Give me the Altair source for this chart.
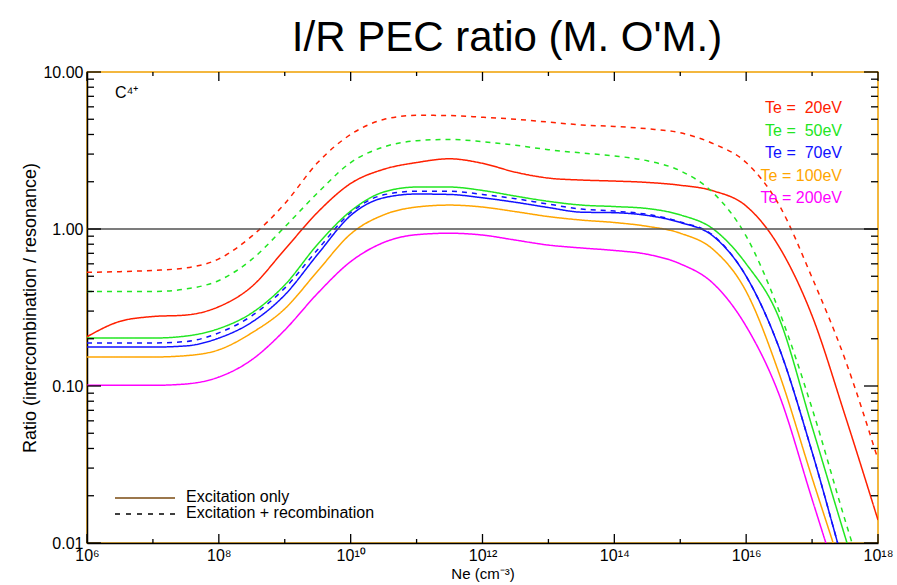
import json
import altair as alt
import pandas as pd

# ---------------- data ----------------
ne_exp = [6.0, 6.5, 7.0, 7.5, 8.0, 8.5, 9.0, 9.5, 10.0, 10.5, 11.0, 11.5, 12.0,
          12.5, 13.0, 13.5, 14.0, 14.5, 15.0, 15.5, 16.0, 16.5, 17.0, 17.5, 18.0]

# excitation only (solid)
r20_exc = [0.206, 0.258, 0.277, 0.283, 0.32, 0.43, 0.74, 1.28, 1.95, 2.4, 2.65, 2.8, 2.62,
           2.3, 2.11, 2.05, 2.02, 1.98, 1.9, 1.75, 1.4, 0.77, 0.28, 0.065, 0.014]
r50_exc = [0.202, 0.202, 0.202, 0.208, 0.232, 0.292, 0.44, 0.8, 1.3, 1.72, 1.85, 1.85, 1.76,
           1.62, 1.5, 1.42, 1.39, 1.35, 1.23, 1.0, 0.6, 0.27, 0.055, 0.011, 0.0023]
r70_exc = [0.177, 0.177, 0.177, 0.18, 0.202, 0.255, 0.38, 0.69, 1.22, 1.58, 1.67, 1.66, 1.58,
           1.48, 1.37, 1.28, 1.27, 1.22, 1.1, 0.9, 0.5, 0.175, 0.038, 0.0068, 0.0013]
r100_exc = [0.153, 0.153, 0.153, 0.156, 0.17, 0.218, 0.31, 0.54, 0.93, 1.23, 1.38, 1.42, 1.38,
            1.29, 1.2, 1.14, 1.1, 1.04, 0.94, 0.74, 0.4, 0.12, 0.026, 0.0058, 0.0012]
r200_exc = [0.101, 0.101, 0.101, 0.103, 0.114, 0.147, 0.227, 0.39, 0.62, 0.82, 0.92, 0.94, 0.915,
            0.85, 0.79, 0.757, 0.73, 0.69, 0.6, 0.45, 0.24, 0.088, 0.019, 0.0041, 0.0009]

# excitation + recombination (dashed)
r20_rec = [0.53, 0.535, 0.545, 0.565, 0.645, 0.9, 1.45, 2.65, 4.0, 4.98, 5.3, 5.28, 5.15,
           5.0, 4.8, 4.6, 4.5, 4.35, 4.1, 3.5, 2.65, 1.42, 0.49, 0.148, 0.034]
r50_rec = [0.40, 0.40, 0.40, 0.415, 0.47, 0.64, 1.03, 1.7, 2.65, 3.33, 3.65, 3.72, 3.6,
           3.42, 3.2, 3.05, 2.92, 2.72, 2.35, 1.7, 0.9, 0.3, 0.072, 0.014, 0.003]
r70_rec = [0.188, 0.188, 0.188, 0.192, 0.218, 0.28, 0.42, 0.74, 1.27, 1.65, 1.74, 1.74, 1.66,
           1.56, 1.44, 1.34, 1.3, 1.24, 1.11, 0.91, 0.5, 0.175, 0.038, 0.0068, 0.0013]

te_labels = ["Te = \u00a020eV", "Te = \u00a050eV", "Te = \u00a070eV", "Te = 100eV", "Te = 200eV"]
te_colors = ["#FF2000", "#22E622", "#1010FF", "#FFA500", "#FF00FF"]

x_tick_labels = ["10⁶", "10⁸", "10¹⁰", "10¹²", "10¹⁴", "10¹⁶", "10¹⁸"]
y_tick_labels = ["0.01", "0.10", "1.00", "10.00"]

title_text = "I/R PEC ratio (M. O'M.)"
x_title = "Ne (cm⁻³)"
y_title = "Ratio (intercombination / resonance)"
ion_label = "C⁴⁺"
legend_labels = ["Excitation only", "Excitation + recombination"]

# ---------------- build table ----------------
series = [
    (te_labels[0], "exc", r20_exc), (te_labels[1], "exc", r50_exc),
    (te_labels[2], "exc", r70_exc), (te_labels[3], "exc", r100_exc),
    (te_labels[4], "exc", r200_exc),
    (te_labels[0], "rec", r20_rec), (te_labels[1], "rec", r50_rec),
    (te_labels[2], "rec", r70_rec),
]
rows = []
for te, proc, vals in series:
    for e, v in zip(ne_exp, vals):
        rows.append({"Ne": 10.0 ** e, "ratio": v, "Te": te, "process": proc,
                     "series": te + proc})
df = pd.DataFrame(rows)

W, H = 791, 471
FONT = "Liberation Sans"

x_scale = alt.Scale(type="log", domain=[1e6, 1e18], nice=False)
y_scale = alt.Scale(type="log", domain=[0.01, 10], nice=False)

x_major_vals = [10.0 ** e for e in range(6, 19, 2)]
x_minor_vals = [10.0 ** e for e in range(7, 18, 2)]
y_major_vals = [0.01, 0.1, 1.0, 10.0]
y_minor_vals = [k * 10.0 ** d for d in (-2, -1, 0) for k in range(2, 10)]

x_axis = alt.Axis(
    values=x_major_vals, ticks=False, grid=False, domainColor="black", domainWidth=1.5,
    labelExpr=f"{json.dumps(x_tick_labels, ensure_ascii=False)}[round((log(datum.value)/LN10 - 6)/2)]",
    labelFontSize=16, labelPadding=4, labelColor="black", labelFlush=False,
    title=x_title, titleFontSize=15, titleFontWeight="normal", titlePadding=3, titleColor="black",
)
y_axis = alt.Axis(
    values=y_major_vals, ticks=False, grid=False, domainColor="black", domainWidth=1.5,
    labelExpr=f"{json.dumps(y_tick_labels)}[round(log(datum.value)/LN10) + 2]",
    labelFontSize=16, labelPadding=4, labelColor="black", labelFlush=False,
    title=y_title, titleFontSize=18, titleFontWeight="normal", titlePadding=3, titleColor="black",
)

lines = alt.Chart(df).mark_line(strokeWidth=1.5, interpolate="monotone", clip=True).encode(
    x=alt.X("Ne:Q", scale=x_scale, axis=x_axis),
    y=alt.Y("ratio:Q", scale=y_scale, axis=y_axis),
    color=alt.Color("Te:N", scale=alt.Scale(domain=te_labels, range=te_colors), legend=None),
    strokeDash=alt.StrokeDash("process:N",
                              scale=alt.Scale(domain=["exc", "rec"], range=[[1, 0], [5, 5]]),
                              legend=None),
    detail="series:N",
)

one_line = alt.Chart(pd.DataFrame({"ratio": [1.0]})).mark_rule(
    color="#505050", strokeWidth=1.3).encode(y=alt.Y("ratio:Q", scale=y_scale))

# inward ticks
def xticks(vals, length, top):
    d = pd.DataFrame({"Ne": vals})
    if top:
        yy, yy2 = alt.value(0), alt.value(length)
    else:
        yy, yy2 = alt.value(H), alt.value(H - length)
    return alt.Chart(d).mark_rule(color="black", strokeWidth=1.3).encode(
        x=alt.X("Ne:Q", scale=x_scale), y=yy, y2=yy2)

def yticks(vals, length, right):
    d = pd.DataFrame({"ratio": vals})
    if right:
        xx, xx2 = alt.value(W), alt.value(W - length)
    else:
        xx, xx2 = alt.value(0), alt.value(length)
    return alt.Chart(d).mark_rule(color="black", strokeWidth=1.3).encode(
        y=alt.Y("ratio:Q", scale=y_scale), x=xx, x2=xx2)

tick_layers = [
    xticks(x_major_vals, 9, False), xticks(x_minor_vals, 4, False),
    xticks(x_major_vals, 9, True), xticks(x_minor_vals, 4, True),
    yticks(y_major_vals, 14, False), yticks(y_minor_vals, 7, False),
    yticks(y_major_vals, 14, True), yticks(y_minor_vals, 7, True),
]

dummy = pd.DataFrame({"k": [0]})

def label(txt, x, y, size=16, color="black", align="left", baseline="middle"):
    return alt.Chart(dummy).mark_text(
        text=txt, fontSize=size, color=color, align=align, baseline=baseline, font=FONT
    ).encode(x=alt.value(x), y=alt.value(y))

texts = [label(title_text, 420, -21, size=42, align="center", baseline="alphabetic"),
         label(ion_label, 28, 21, size=16)]
for i, (t, c) in enumerate(zip(te_labels, te_colors)):
    texts.append(label(t, 755, 36 + 22.6 * i, size=16, color=c, align="right"))

leg_solid = alt.Chart(dummy).mark_rule(color="#7a4a10", strokeWidth=1.5).encode(
    x=alt.value(28), x2=alt.value(88), y=alt.value(426))
leg_dash = alt.Chart(dummy).mark_rule(color="black", strokeWidth=1.3, strokeDash=[5, 6]).encode(
    x=alt.value(28), x2=alt.value(88), y=alt.value(442))
texts.append(label(legend_labels[0], 99, 425))
texts.append(label(legend_labels[1], 99, 441))

chart = alt.layer(
    lines, one_line, *tick_layers, leg_solid, leg_dash, *texts
).properties(
    width=W, height=H,
    autosize=alt.AutoSizeParams(type="none"),
    padding={"left": 87, "top": 72, "right": 19, "bottom": 42},
).configure(font=FONT, background="white").configure_view(
    stroke="#F0A000", strokeWidth=1.5
)

chart.save("out.html", embed_options={"renderer": "svg", "actions": False})
